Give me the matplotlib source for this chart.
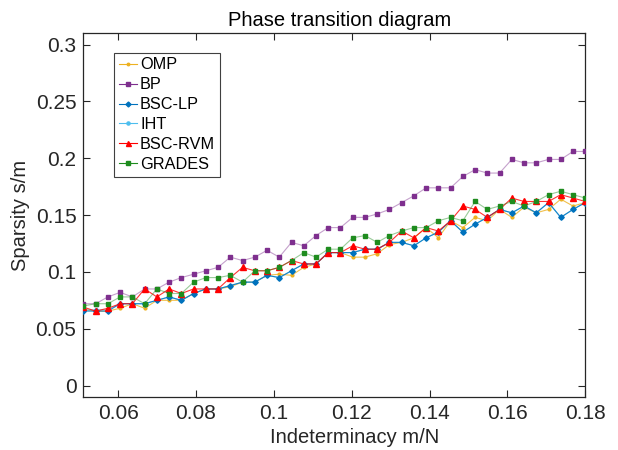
import numpy as np
import matplotlib
matplotlib.use('Agg')
import matplotlib.pyplot as plt

plt.rcParams['font.family'] = ['Liberation Sans', 'DejaVu Sans']

# indeterminacy grid (42 evenly spaced m/N samples)
x = np.linspace(0.0511, 0.18, 42)

omp = [0.067, 0.0655, 0.0655, 0.068, 0.072, 0.068, 0.075, 0.075, 0.075, 0.081,
       0.085, 0.085, 0.087, 0.091, 0.091, 0.097, 0.098, 0.097, 0.104, 0.107,
       0.117, 0.117, 0.113, 0.113, 0.116, 0.124, 0.126, 0.130, 0.139, 0.130,
       0.145, 0.139, 0.148, 0.145, 0.155, 0.148, 0.157, 0.152, 0.155, 0.164,
       0.158, 0.161]
bp = [0.072, 0.072, 0.078, 0.082, 0.078, 0.085, 0.085, 0.091, 0.095, 0.098,
      0.101, 0.104, 0.113, 0.110, 0.113, 0.119, 0.113, 0.126, 0.123, 0.132,
      0.139, 0.139, 0.148, 0.148, 0.151, 0.155, 0.161, 0.167, 0.174, 0.174,
      0.174, 0.184, 0.190, 0.187, 0.187, 0.199, 0.196, 0.196, 0.199, 0.199,
      0.206, 0.206]
bsc_lp = [0.0655, 0.0655, 0.0655, 0.072, 0.072, 0.072, 0.075, 0.078, 0.075, 0.081,
          0.085, 0.085, 0.088, 0.091, 0.091, 0.097, 0.095, 0.101, 0.107, 0.107,
          0.117, 0.117, 0.117, 0.120, 0.120, 0.126, 0.126, 0.123, 0.130, 0.135,
          0.145, 0.135, 0.142, 0.148, 0.155, 0.152, 0.158, 0.152, 0.161, 0.148,
          0.155, 0.161]
iht = [0.0665, 0.0665, 0.0665, 0.072, 0.072, 0.072, 0.075, 0.078, 0.075, 0.081,
       0.085, 0.085, 0.088, 0.091, 0.091, 0.097, 0.095, 0.101, 0.107, 0.107,
       0.117, 0.117, 0.117, 0.120, 0.120, 0.126, 0.126, 0.123, 0.130, 0.135,
       0.145, 0.135, 0.142, 0.148, 0.155, 0.152, 0.158, 0.152, 0.161, 0.148,
       0.155, 0.161]
bsc_rvm = [0.069, 0.0655, 0.068, 0.072, 0.072, 0.085, 0.078, 0.085, 0.081, 0.085,
           0.085, 0.085, 0.095, 0.104, 0.101, 0.101, 0.104, 0.110, 0.107, 0.107,
           0.117, 0.117, 0.123, 0.120, 0.120, 0.126, 0.136, 0.130, 0.139, 0.136,
           0.145, 0.158, 0.155, 0.148, 0.155, 0.165, 0.162, 0.162, 0.162, 0.168,
           0.165, 0.162]
grades = [0.070, 0.072, 0.072, 0.078, 0.078, 0.072, 0.085, 0.081, 0.081, 0.091,
          0.095, 0.095, 0.097, 0.091, 0.101, 0.101, 0.104, 0.110, 0.117, 0.113,
          0.120, 0.120, 0.130, 0.132, 0.126, 0.132, 0.136, 0.139, 0.139, 0.145,
          0.148, 0.145, 0.162, 0.155, 0.158, 0.162, 0.158, 0.162, 0.168, 0.171,
          0.168, 0.165]

fig = plt.figure(figsize=(6.18, 4.5), dpi=100)
ax = fig.add_axes([0.135, 0.118, 0.812, 0.808])

# (label, values, colour, marker, size, line alpha, zorder)
series = [
    ('OMP', omp, '#EDB120', 'o', 2.0, 0.8, 3),
    ('BP', bp, '#7E2F8E', 's', 3.2, 0.45, 3),
    ('BSC-LP', bsc_lp, '#0072BD', 'D', 2.8, 0.8, 5),
    ('IHT', iht, '#4DBEEE', 'o', 2.5, 0.8, 4),
    ('BSC-RVM', bsc_rvm, '#FF0000', '^', 4.0, 0.8, 6),
    ('GRADES', grades, '#1E8C1E', 's', 2.5, 0.45, 7),
]
handles = []
for name, vals, col, mk, ms, la, z in series:
    ax.plot(x, vals, color=col, lw=0.8, alpha=la, zorder=z)
    ax.plot(x, vals, ls='none', marker=mk, ms=ms, color=col, zorder=z + 0.5)
    h, = ax.plot([], [], color=col, lw=0.8, marker=mk, ms=ms * 0.9, label=name)
    handles.append(h)

ax.set_xlim(x[0], x[-1])
ax.set_ylim(-0.01, 0.31)
ax.set_xticks([0.06, 0.08, 0.1, 0.12, 0.14, 0.16, 0.18])
ax.set_xticklabels(['0.06', '0.08', '0.1', '0.12', '0.14', '0.16', '0.18'])
ax.set_yticks([0, 0.05, 0.1, 0.15, 0.2, 0.25, 0.3])
ax.set_yticklabels(['0', '0.05', '0.1', '0.15', '0.2', '0.25', '0.3'])
ax.tick_params(direction='in', top=True, right=True, labelsize=15,
               length=5, width=0.8, colors='#262626', pad=5)
for s in ax.spines.values():
    s.set_color('#262626')
    s.set_linewidth(0.9)

ax.set_title('Phase transition diagram', fontsize=14.5, pad=5, x=0.51)
ax.set_xlabel('Indeterminacy m/N', fontsize=14.5, labelpad=0, color='#262626')
ax.xaxis.set_label_coords(0.54, -0.085)
ax.set_ylabel('Sparsity s/m', fontsize=14.5, labelpad=4, color='#262626')

leg = ax.legend(handles=handles, loc='upper left', bbox_to_anchor=(0.061, 0.947),
                borderaxespad=0, fontsize=11.7, handlelength=1.1, handletextpad=0.2,
                labelspacing=0.3, fancybox=False, framealpha=1, borderpad=0.3)
leg.get_frame().set_edgecolor('#404040')
leg.get_frame().set_linewidth(0.8)

plt.savefig('out.png', dpi=100)
